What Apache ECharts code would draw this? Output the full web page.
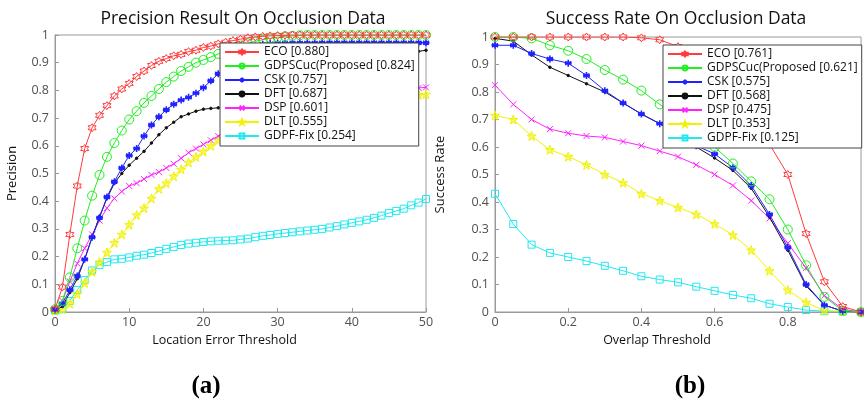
<!DOCTYPE html>
<html><head><meta charset="utf-8">
<script src="https://cdn.jsdelivr.net/npm/echarts@6/dist/echarts.min.js"></script>
<style>html,body{margin:0;padding:0;background:#fff}#c{width:864px;height:400px}</style>
</head><body><div id="c"></div>
<script>
// ---------- Left chart: Precision vs Location Error Threshold ----------
const precX = Array.from({length:51},(_,i)=>i); // thresholds 0..50
const precNames = ["ECO [0.880]","GDPSCuc(Proposed [0.824]","CSK [0.757]","DFT [0.687]","DSP [0.601]","DLT [0.555]","GDPF-Fix [0.254]"];
const precECO = [0.01,0.09,0.28,0.455,0.59,0.665,0.71,0.745,0.78,0.805,0.825,0.85,0.87,0.89,0.905,0.915,0.925,0.93,0.94,0.945,0.955,0.96,0.968,0.974,0.98,0.985,0.99,0.993,0.995,0.997,0.998,0.999,1,1,1,1,1,1,1,1,1,1,1,1,1,1,1,1,1,1,1];
const precGDPS = [0.01,0.04,0.125,0.23,0.33,0.42,0.495,0.56,0.61,0.655,0.695,0.725,0.755,0.78,0.805,0.83,0.85,0.87,0.885,0.9,0.91,0.92,0.932,0.943,0.953,0.962,0.97,0.977,0.983,0.988,0.992,0.995,0.997,0.999,1,1,1,1,1,1,1,1,1,1,1,1,1,1,1,1,1];
const precCSK = [0.01,0.03,0.08,0.13,0.19,0.27,0.34,0.415,0.47,0.52,0.565,0.59,0.635,0.675,0.705,0.73,0.75,0.765,0.775,0.79,0.81,0.835,0.86,0.885,0.91,0.93,0.948,0.96,0.966,0.969,0.97,0.97,0.971,0.971,0.971,0.971,0.972,0.972,0.972,0.972,0.972,0.972,0.972,0.972,0.972,0.972,0.972,0.972,0.972,0.972,0.972];
const precDFT = [0.005,0.02,0.07,0.12,0.19,0.27,0.345,0.41,0.465,0.5,0.53,0.555,0.58,0.61,0.64,0.665,0.685,0.705,0.715,0.725,0.732,0.735,0.737,0.74,0.745,0.752,0.76,0.77,0.78,0.79,0.8,0.81,0.82,0.83,0.84,0.85,0.86,0.87,0.878,0.886,0.893,0.9,0.906,0.912,0.918,0.923,0.928,0.933,0.937,0.941,0.945];
const precDSP = [0.01,0.04,0.11,0.175,0.23,0.28,0.33,0.375,0.41,0.435,0.455,0.465,0.48,0.495,0.505,0.52,0.535,0.555,0.575,0.59,0.605,0.62,0.635,0.648,0.66,0.672,0.683,0.693,0.703,0.712,0.72,0.728,0.735,0.742,0.748,0.754,0.76,0.765,0.77,0.775,0.779,0.783,0.787,0.79,0.794,0.797,0.8,0.803,0.806,0.809,0.811];
const precDLT = [0.005,0.01,0.03,0.065,0.105,0.145,0.18,0.215,0.25,0.28,0.315,0.35,0.375,0.41,0.445,0.465,0.49,0.515,0.54,0.56,0.58,0.6,0.62,0.635,0.648,0.66,0.672,0.683,0.693,0.702,0.71,0.718,0.725,0.731,0.737,0.742,0.747,0.751,0.755,0.759,0.762,0.765,0.768,0.771,0.774,0.776,0.778,0.78,0.782,0.784,0.786];
const precGDPF = [0.005,0.01,0.04,0.08,0.115,0.15,0.17,0.18,0.19,0.192,0.197,0.203,0.207,0.213,0.22,0.228,0.235,0.242,0.247,0.25,0.253,0.255,0.257,0.258,0.259,0.262,0.265,0.27,0.275,0.278,0.282,0.285,0.288,0.291,0.294,0.297,0.3,0.305,0.31,0.316,0.322,0.327,0.333,0.34,0.348,0.357,0.365,0.373,0.385,0.395,0.408];

// ---------- Right chart: Success Rate vs Overlap Threshold ----------
const succX = [0,0.05,0.1,0.15,0.2,0.25,0.3,0.35,0.4,0.45,0.5,0.55,0.6,0.65,0.7,0.75,0.8,0.85,0.9,0.95,1];
const succNames = ["ECO [0.761]","GDPSCuc(Proposed [0.621]","CSK [0.575]","DFT [0.568]","DSP [0.475]","DLT [0.353]","GDPF-Fix [0.125]"];
const succECO = [1,1,1,1,1,1,1,1,0.997,0.99,0.965,0.93,0.88,0.8,0.71,0.61,0.5,0.285,0.11,0.02,0];
const succGDPS = [1,1,0.995,0.97,0.95,0.92,0.88,0.845,0.805,0.755,0.71,0.66,0.6,0.54,0.475,0.41,0.3,0.17,0.055,0.005,0];
const succCSK = [0.97,0.97,0.94,0.92,0.905,0.86,0.805,0.76,0.72,0.685,0.645,0.605,0.575,0.525,0.46,0.355,0.235,0.1,0.025,0.003,0];
const succDFT = [0.995,0.985,0.935,0.89,0.86,0.83,0.8,0.76,0.72,0.685,0.64,0.6,0.56,0.515,0.45,0.345,0.225,0.095,0.025,0.003,0];
const succDSP = [0.825,0.755,0.7,0.665,0.65,0.64,0.635,0.62,0.605,0.585,0.565,0.535,0.5,0.46,0.405,0.34,0.25,0.16,0.06,0.01,0];
const succDLT = [0.715,0.7,0.64,0.59,0.565,0.535,0.5,0.47,0.43,0.405,0.38,0.355,0.32,0.28,0.225,0.15,0.08,0.035,0.005,0.002,0];
const succGDPF = [0.43,0.32,0.245,0.215,0.2,0.185,0.168,0.15,0.13,0.118,0.108,0.092,0.077,0.062,0.05,0.03,0.018,0.007,0.003,0.001,0];

// ---------- styling ----------
const colors = ['#ff3b3b','#22ee22','#2222ff','#111111','#ff22ff','#f2f200','#22e8f0'];
const hexagram = 'path://M0,-10 L2.9,-5 L8.66,-5 L5.77,0 L8.66,5 L2.9,5 L0,10 L-2.9,5 L-8.66,5 L-5.77,0 L-8.66,-5 L-2.9,-5 Z';
const asterisk = 'path://M0,-5 L0,5 M-4.33,-2.5 L4.33,2.5 M-4.33,2.5 L4.33,-2.5 M-5,0 L5,0';
const cross = 'path://M-4,-4 L4,4 M-4,4 L4,-4';
const pentagram = 'path://M0,-10 L2.35,-3.24 L9.51,-3.09 L3.8,1.24 L5.88,8.09 L0,4 L-5.88,8.09 L-3.8,1.24 L-9.51,-3.09 L-2.35,-3.24 Z';
const markers = [
  {symbol:hexagram,size:8,fill:'rgba(0,0,0,0)'},
  {symbol:'circle',size:9,fill:'rgba(0,0,0,0)'},
  {symbol:asterisk,size:7,fill:'rgba(0,0,0,0)',bw:1.6},
  {symbol:'circle',size:2.5,fill:'#111'},
  {symbol:cross,size:6,fill:'rgba(0,0,0,0)'},
  {symbol:pentagram,size:9,fill:'rgba(242,242,0,0.5)'},
  {symbol:'rect',size:7,fill:'rgba(0,0,0,0)'}
];
const FONT = 'Open Sans';
const axisGray = '#9a9a9a';
const labelGray = '#505050';

function mkSeries(names, xs, arrs, idx) {
  return arrs.map((arr, i) => ({
    name: names[i], type: 'line', xAxisIndex: idx, yAxisIndex: idx,
    data: arr.map((v, j) => [xs[j], v]),
    symbol: markers[i].symbol, symbolSize: markers[i].size, showSymbol: true,
    lineStyle: {color: colors[i], width: 1},
    itemStyle: {color: markers[i].fill, borderColor: colors[i], borderWidth: markers[i].bw || 1},
    emphasis: {disabled: true}, animation: false, z: 10 - i
  }));
}
const leftSeries = mkSeries(precNames, precX, [precECO,precGDPS,precCSK,precDFT,precDSP,precDLT,precGDPF], 0);
const rightSeries = mkSeries(succNames, succX, [succECO,succGDPS,succCSK,succDFT,succDSP,succDLT,succGDPF], 1);

function xAx(idx, min, max, interval, name, pad) {
  return {
    type: 'value', gridIndex: idx, min, max, interval,
    name, nameLocation: 'middle', nameGap: 17,
    nameTextStyle: {fontFamily: FONT, fontSize: 12.5, color: '#111', padding: pad},
    axisLine: {lineStyle: {color: axisGray}}, axisTick: {inside: true, length: 4, lineStyle: {color: axisGray}},
    axisLabel: {fontFamily: FONT, fontSize: 12.5, color: labelGray, margin: 4,
      formatter: v => (idx === 1 && v > 0.9) ? '' : String(+v.toFixed(2))},
    splitLine: {show: false}
  };
}
function yAx(idx, name, gap) {
  return {
    type: 'value', gridIndex: idx, min: 0, max: 1, interval: 0.1,
    name, nameLocation: 'middle', nameGap: gap,
    nameTextStyle: {fontFamily: FONT, fontSize: 13, color: '#111'},
    axisLine: {lineStyle: {color: axisGray}}, axisTick: {inside: true, length: 4, lineStyle: {color: axisGray}},
    axisLabel: {fontFamily: FONT, fontSize: 12.5, color: labelGray, margin: 6,
      formatter: v => String(+v.toFixed(1))},
    splitLine: {show: false}
  };
}
function legend(names, left, top) {
  return {
    data: names, orient: 'vertical', left, top,
    backgroundColor: '#fff', borderColor: '#444', borderWidth: 1,
    padding: [2, 4, 3, 4], itemGap: 0, itemWidth: 34, itemHeight: 6,
    textStyle: {fontFamily: FONT, fontSize: 12, color: '#111', lineHeight: 14},
    selectedMode: false, z: 20
  };
}

const chart = echarts.init(document.getElementById('c'), null, {renderer: 'canvas'});
chart.setOption({
  animation: false,
  backgroundColor: '#fff',
  title: [
    {text: 'Precision Result On Occlusion Data', left: 238, top: 5, textAlign: 'center',
     textStyle: {fontFamily: FONT, fontSize: 17.5, fontWeight: 'normal', color: '#111'}},
    {text: 'Success Rate On Occlusion Data', left: 671, top: 5, textAlign: 'center',
     textStyle: {fontFamily: FONT, fontSize: 17.5, fontWeight: 'normal', color: '#111'}},
    {text: '(a)', left: 201, top: 369, textAlign: 'center',
     textStyle: {fontFamily: 'Liberation Serif', fontSize: 25, fontWeight: 'bold', color: '#000'}},
    {text: '(b)', left: 685, top: 369, textAlign: 'center',
     textStyle: {fontFamily: 'Liberation Serif', fontSize: 25, fontWeight: 'bold', color: '#000'}}
  ],
  grid: [
    {left: 55, top: 35, width: 371, height: 277, show: true, borderColor: axisGray, borderWidth: 1, backgroundColor: '#fff'},
    {left: 495, top: 37, width: 372, height: 275, show: true, borderColor: axisGray, borderWidth: 1, backgroundColor: '#fff'}
  ],
  xAxis: [
    xAx(0, 0, 50, 10, 'Location Error Threshold', [0, 32, 0, 0]),
    xAx(1, 0, 1, 0.2, 'Overlap Threshold', [0, 42, 0, 0])
  ],
  yAxis: [
    yAx(0, 'Precision', 36),
    yAx(1, 'Success Rate', 48)
  ],
  legend: [legend(precNames, 220, 43), legend(succNames, 663, 45)],
  series: leftSeries.concat(rightSeries)
});
</script></body></html>
